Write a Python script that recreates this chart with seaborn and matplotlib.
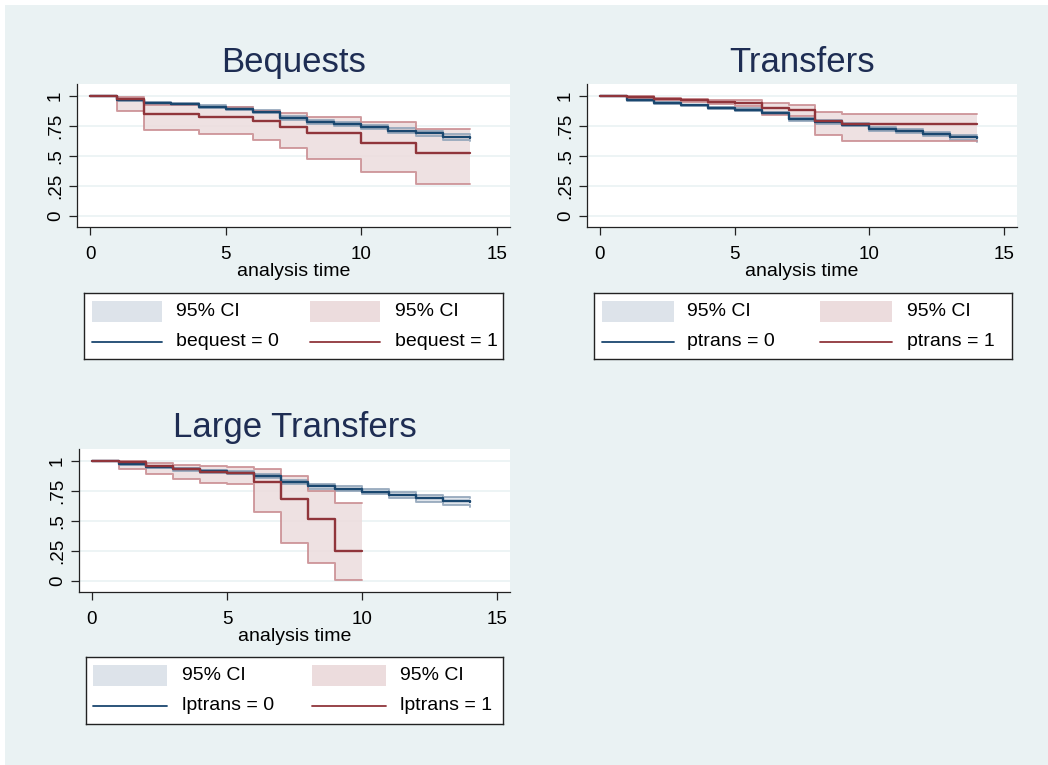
import matplotlib
matplotlib.use("Agg")
import matplotlib.pyplot as plt
import numpy as np
import pandas as pd
import seaborn as sns
from matplotlib.patches import Rectangle
from matplotlib.lines import Line2D

# ---------------- Kaplan-Meier estimates (value holds on [t, t+1)) ----------------
# Bequests
beq_time = list(range(15))
beq0_surv = [1.0, 0.966, 0.945, 0.932, 0.911, 0.894, 0.870, 0.816, 0.783, 0.764, 0.742, 0.711, 0.689, 0.661, 0.653]
beq0_low  = [1.0, 0.958, 0.935, 0.921, 0.899, 0.881, 0.856, 0.800, 0.766, 0.746, 0.723, 0.690, 0.667, 0.637, 0.628]
beq0_high = [1.0, 0.973, 0.954, 0.942, 0.922, 0.906, 0.883, 0.831, 0.799, 0.781, 0.760, 0.731, 0.710, 0.684, 0.676]
beq1_surv = [1.0, 0.975, 0.849, 0.849, 0.822, 0.822, 0.788, 0.741, 0.689, 0.689, 0.611, 0.611, 0.525, 0.525, 0.525]
beq1_low  = [1.0, 0.872, 0.716, 0.716, 0.685, 0.685, 0.630, 0.566, 0.478, 0.478, 0.369, 0.369, 0.269, 0.269, 0.269]
beq1_high = [1.0, 0.993, 0.928, 0.928, 0.906, 0.906, 0.876, 0.858, 0.828, 0.828, 0.781, 0.781, 0.725, 0.725, 0.725]

# Transfers
ptr_time = list(range(15))
ptr0_surv = [1.0, 0.967, 0.944, 0.921, 0.901, 0.886, 0.859, 0.805, 0.783, 0.761, 0.728, 0.708, 0.683, 0.656, 0.650]
ptr0_low  = [1.0, 0.961, 0.937, 0.913, 0.892, 0.876, 0.848, 0.792, 0.769, 0.746, 0.712, 0.691, 0.665, 0.636, 0.620]
ptr0_high = [1.0, 0.972, 0.951, 0.929, 0.910, 0.896, 0.870, 0.818, 0.797, 0.776, 0.744, 0.725, 0.701, 0.676, 0.672]
ptr1_surv = [1.0, 0.989, 0.975, 0.964, 0.951, 0.942, 0.897, 0.883, 0.790, 0.764, 0.764, 0.764, 0.764, 0.764, 0.764]
ptr1_low  = [1.0, 0.981, 0.964, 0.947, 0.932, 0.919, 0.844, 0.835, 0.675, 0.622, 0.622, 0.622, 0.622, 0.622, 0.622]
ptr1_high = [1.0, 0.997, 0.986, 0.978, 0.969, 0.963, 0.939, 0.928, 0.870, 0.853, 0.853, 0.853, 0.853, 0.853, 0.853]

# Large transfers
lpt0_time = list(range(15))
lpt0_surv = [1.0, 0.972, 0.952, 0.930, 0.916, 0.902, 0.874, 0.823, 0.789, 0.770, 0.744, 0.719, 0.691, 0.666, 0.660]
lpt0_low  = [1.0, 0.966, 0.944, 0.920, 0.904, 0.888, 0.858, 0.805, 0.770, 0.750, 0.722, 0.694, 0.662, 0.633, 0.620]
lpt0_high = [1.0, 0.978, 0.960, 0.940, 0.927, 0.915, 0.889, 0.840, 0.807, 0.789, 0.765, 0.742, 0.717, 0.697, 0.692]
lpt1_time = list(range(11))
lpt1_surv = [1.0, 0.993, 0.958, 0.930, 0.907, 0.900, 0.826, 0.685, 0.517, 0.250, 0.250]
lpt1_low  = [1.0, 0.933, 0.888, 0.851, 0.815, 0.812, 0.579, 0.320, 0.146, 0.006, 0.006]
lpt1_high = [1.0, 1.0, 0.986, 0.966, 0.955, 0.952, 0.935, 0.879, 0.747, 0.649, 0.649]

titles = ["Bequests", "Transfers", "Large Transfers"]
group_vars = ["bequest", "ptrans", "lptrans"]
x_ticks = [0, 5, 10, 15]
y_ticks = [0, 0.25, 0.5, 0.75, 1]
y_tick_labels = ["0", ".25", ".5", ".75", "1"]
x_label = "analysis time"
ci_label = "95% CI"

# ---------------- styling ----------------
sns.set_theme(style="white")
plt.rcParams["font.family"] = ["Liberation Sans", "DejaVu Sans"]

W, H = 1048, 765
BG = "#eaf2f3"
TITLE_C = "#1e2d53"
LINE_C = ["#1a476f", "#90353b"]
FILL_C = ["#dde3ea", "#ecdcdd"]
EDGE_C = ["#8fa3b8", "#c98c90"]

fig = plt.figure(figsize=(W / 100, H / 100), dpi=100, facecolor="white")
fig.patches.append(Rectangle((5 / W, 0), 1, (H - 5) / H, transform=fig.transFigure,
                             facecolor=BG, edgecolor="none", zorder=-10))


def px_axes(left, top, right, bottom):
    return fig.add_axes([left / W, 1 - bottom / H, (right - left) / W, (bottom - top) / H])


panels = [
    dict(box=(77, 84, 510, 227), var=group_vars[0], title=titles[0],
         groups=[(beq_time, beq0_surv, beq0_low, beq0_high), (beq_time, beq1_surv, beq1_low, beq1_high)],
         legend=(84, 293, 503, 359), patch_x=(8, 226), patch_w=70, text_x=(92, 311)),
    dict(box=(587, 84, 1017, 227), var=group_vars[1], title=titles[1],
         groups=[(ptr_time, ptr0_surv, ptr0_low, ptr0_high), (ptr_time, ptr1_surv, ptr1_low, ptr1_high)],
         legend=(594, 293, 1012, 359), patch_x=(8, 226), patch_w=72, text_x=(93, 313)),
    dict(box=(79, 449, 510, 592), var=group_vars[2], title=titles[2],
         groups=[(lpt0_time, lpt0_surv, lpt0_low, lpt0_high), (lpt1_time, lpt1_surv, lpt1_low, lpt1_high)],
         legend=(86, 657, 503, 724), patch_x=(7, 226), patch_w=74, text_x=(96, 314)),
]

for p in panels:
    ax = px_axes(*p["box"])
    ax.set_facecolor("white")
    ax.set_xlim(-0.48, 15.48)
    ax.set_ylim(-0.092, 1.1)
    for yv in y_ticks:
        ax.axhline(yv, color=BG, lw=1.2, zorder=0)

    # confidence bands
    for gi, (t, s, lo, hi) in enumerate(p["groups"]):
        ax.fill_between(t, lo, hi, step="post", facecolor=FILL_C[gi], edgecolor="none",
                        alpha=0.85 if gi == 1 else 0.9, zorder=1 + gi)
        band = pd.DataFrame({"t": t + t, "v": lo + hi, "b": ["lo"] * len(t) + ["hi"] * len(t)})
        sns.lineplot(data=band, x="t", y="v", units="b", estimator=None, color=EDGE_C[gi],
                     lw=1.4, alpha=0.85, drawstyle="steps-post", ax=ax, zorder=3, legend=False)

    # survival curves
    rows = []
    for gi, (t, s, lo, hi) in enumerate(p["groups"]):
        rows.append(pd.DataFrame({"time": t, "surv": s, "grp": f"{p['var']} = {gi}"}))
    df = pd.concat(rows, ignore_index=True)
    sns.lineplot(data=df, x="time", y="surv", hue="grp", palette=LINE_C, lw=1.7,
                 drawstyle="steps-post", errorbar=None, ax=ax, zorder=5, legend=False)

    ax.set_xticks(x_ticks)
    ax.set_yticks(y_ticks)
    ax.set_yticklabels(y_tick_labels, rotation=90, va="center")
    ax.tick_params(axis="both", direction="out", length=5.5, width=0.9, color="#222222",
                   labelsize=13.5, labelcolor="black", left=True, bottom=True)
    ax.tick_params(axis="x", pad=8)
    ax.tick_params(axis="y", pad=4)
    ax.set_xlabel(x_label, fontsize=14, color="black", labelpad=0)
    ax.set_ylabel("")
    ax.set_title(p["title"], fontsize=25, color=TITLE_C, pad=8.5)
    for side in ("top", "right"):
        ax.spines[side].set_visible(False)
    for side in ("left", "bottom"):
        ax.spines[side].set_color("#222222")
        ax.spines[side].set_linewidth(0.9)

    # legend box
    L, T, R, B = p["legend"]
    lax = px_axes(L, T, R, B)
    lax.set_xlim(0, R - L)
    lax.set_ylim(B - T, 0)
    lax.set_xticks([])
    lax.set_yticks([])
    lax.set_facecolor("white")
    for sp in lax.spines.values():
        sp.set_visible(True)
        sp.set_color("#222222")
        sp.set_linewidth(1.0)
    for gi in range(2):
        px0 = p["patch_x"][gi]
        lax.add_patch(Rectangle((px0, 8), p["patch_w"], 21, facecolor=FILL_C[gi], edgecolor="none"))
        lax.text(p["text_x"][gi], 18.5, ci_label, fontsize=14, va="center", ha="left", color="black")
        lax.add_line(Line2D([px0, px0 + p["patch_w"]], [49, 49], color=LINE_C[gi], lw=1.3))
        lax.text(p["text_x"][gi], 49, f"{p['var']} = {gi}", fontsize=14, va="center", ha="left",
                 color="black")

fig.savefig("out.png", dpi=100, facecolor="white")
